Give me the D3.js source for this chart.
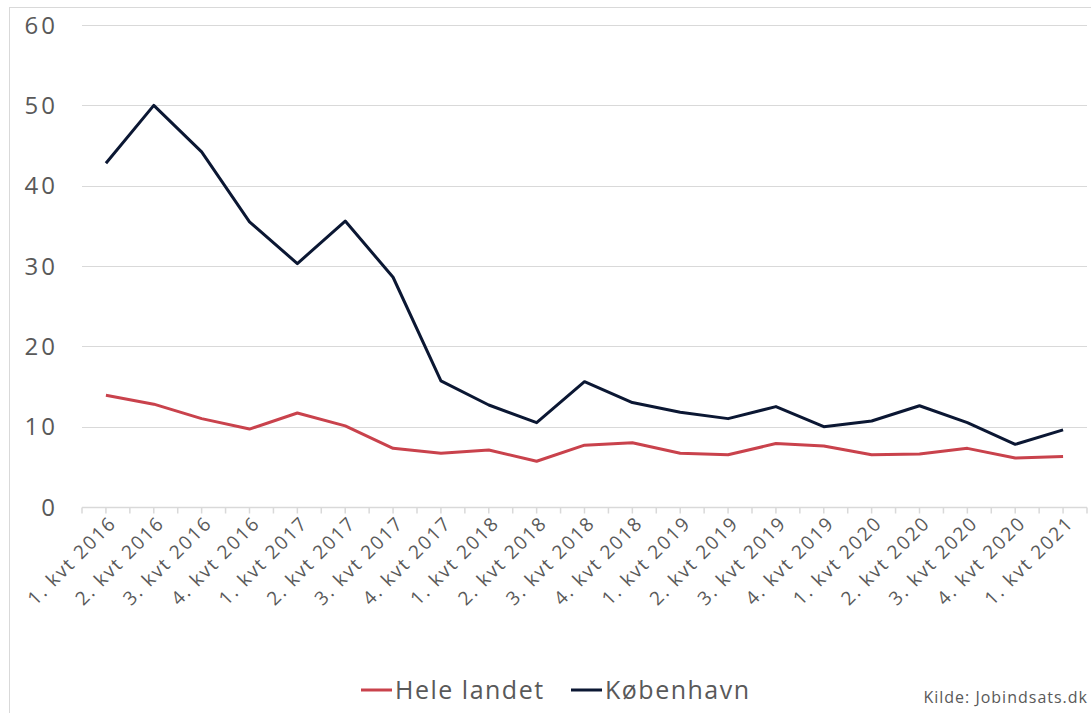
<!DOCTYPE html>
<html>
<head>
<meta charset="utf-8">
<script src="https://cdn.jsdelivr.net/npm/d3@7"></script>
<style>
  body { margin: 0; background: #fff; }
  svg { font-family: "Open Sans", "Noto Sans", sans-serif; }
</style>
</head>
<body>
<div id="chart"></div>
<script>
const quarters = [
  "1. kvt 2016", "2. kvt 2016", "3. kvt 2016", "4. kvt 2016",
  "1. kvt 2017", "2. kvt 2017", "3. kvt 2017", "4. kvt 2017",
  "1. kvt 2018", "2. kvt 2018", "3. kvt 2018", "4. kvt 2018",
  "1. kvt 2019", "2. kvt 2019", "3. kvt 2019", "4. kvt 2019",
  "1. kvt 2020", "2. kvt 2020", "3. kvt 2020", "4. kvt 2020",
  "1. kvt 2021"
];
const heleLandet = [13.9, 12.8, 11.0, 9.7, 11.7, 10.1, 7.3, 6.7, 7.1, 5.7, 7.7, 8.0,
                    6.7, 6.5, 7.9, 7.6, 6.5, 6.6, 7.3, 6.1, 6.3];
const kobenhavn  = [42.8, 50.0, 44.2, 35.5, 30.3, 35.6, 28.6, 15.7, 12.7, 10.5, 15.6, 13.0,
                    11.8, 11.0, 12.5, 10.0, 10.7, 12.6, 10.5, 7.8, 9.6];
const yTicks = [0, 10, 20, 30, 40, 50, 60];

const seriesList = [
  { name: "Hele landet", values: heleLandet, color: "#c9424c" },
  { name: "København",   values: kobenhavn,  color: "#0b1733" }
];

const width = 1091, height = 713;
const margin = { top: 25, right: 4, bottom: 206, left: 82 };

const svg = d3.select("#chart").append("svg")
  .attr("width", width)
  .attr("height", height);

// chart border
svg.append("rect")
  .attr("x", 9.5).attr("y", 7.5)
  .attr("width", width).attr("height", height)
  .attr("fill", "none")
  .attr("stroke", "#d9d9d9");

const x = d3.scaleBand()
  .domain(quarters)
  .range([margin.left, width - margin.right]);

const y = d3.scaleLinear()
  .domain([0, 60])
  .range([height - margin.bottom, margin.top]);

// gridlines
svg.append("g")
  .selectAll("line")
  .data(yTicks.filter(d => d > 0))
  .join("line")
    .attr("x1", margin.left)
    .attr("x2", width - margin.right)
    .attr("y1", d => Math.round(y(d)) + 0.5)
    .attr("y2", d => Math.round(y(d)) + 0.5)
    .attr("stroke", "#d9d9d9")
    .attr("stroke-width", 1);

// y labels
svg.append("g")
  .selectAll("text")
  .data(yTicks)
  .join("text")
    .attr("x", 58)
    .attr("y", d => y(d))
    .attr("dy", "0.36em")
    .attr("text-anchor", "end")
    .attr("fill", "#595959")
    .style("font-size", "24px")
    .style("letter-spacing", "3px")
    .text(d => d);

// x axis line + ticks at band edges and centers
const y0 = Math.round(y(0)) + 0.5;
svg.append("line")
  .attr("x1", margin.left).attr("x2", width - margin.right)
  .attr("y1", y0).attr("y2", y0)
  .attr("stroke", "#d9d9d9").attr("stroke-width", 1.5);

const tickPos = [];
quarters.forEach(q => {
  tickPos.push(x(q));
  tickPos.push(x(q) + x.bandwidth() / 2);
});
tickPos.push(width - margin.right);
svg.append("g")
  .selectAll("line")
  .data(tickPos)
  .join("line")
    .attr("x1", d => d).attr("x2", d => d)
    .attr("y1", y0).attr("y2", y0 + 6)
    .attr("stroke", "#d9d9d9").attr("stroke-width", 1.5);

// x labels
svg.append("g")
  .selectAll("text")
  .data(quarters)
  .join("text")
    .attr("transform", d => `translate(${x(d) + x.bandwidth() / 2 + 7},${y0 + 12}) rotate(-45)`)
    .attr("text-anchor", "end")
    .attr("dy", "0.35em")
    .attr("fill", "#595959")
    .style("font-size", "19px")
    .style("letter-spacing", "1.9px")
    .text(d => d);

// lines
const line = d3.line()
  .x((d, i) => x(quarters[i]) + x.bandwidth() / 2)
  .y(d => y(d));

svg.append("g")
  .selectAll("path")
  .data(seriesList)
  .join("path")
    .attr("d", d => line(d.values))
    .attr("fill", "none")
    .attr("stroke", d => d.color)
    .attr("stroke-width", 3)
    .attr("stroke-linejoin", "round");

// legend
const legendX = [361, 571];
const legend = svg.append("g")
  .selectAll("g")
  .data(seriesList)
  .join("g")
    .attr("transform", (d, i) => `translate(${legendX[i]},690)`);

legend.append("line")
  .attr("x1", 0).attr("x2", 31)
  .attr("stroke", d => d.color)
  .attr("stroke-width", 3);

legend.append("text")
  .attr("x", 34)
  .attr("dy", "0.36em")
  .attr("fill", "#595959")
  .style("font-size", "25px")
  .style("letter-spacing", "1.5px")
  .text(d => d.name);

svg.append("text")
  .attr("x", 1088)
  .attr("y", 697)
  .attr("dy", "0.35em")
  .attr("text-anchor", "end")
  .attr("fill", "#595959")
  .style("font-size", "16px")
  .style("letter-spacing", "1px")
  .text("Kilde: Jobindsats.dk");
</script>
</body>
</html>
